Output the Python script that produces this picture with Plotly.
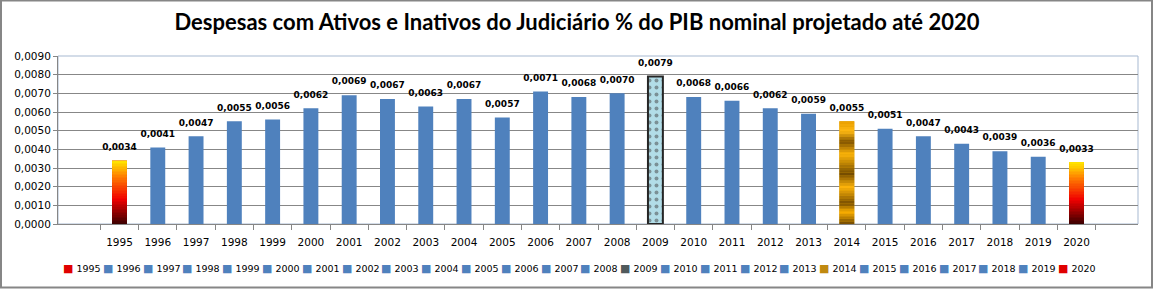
import plotly.graph_objects as go

# ---------------- data ----------------
years = [str(y) for y in range(1995, 2021)]
values = [0.0034, 0.0041, 0.0047, 0.0055, 0.0056, 0.0062, 0.0069, 0.0067, 0.0063,
          0.0067, 0.0057, 0.0071, 0.0068, 0.0070, 0.0079, 0.0068, 0.0066, 0.0062,
          0.0059, 0.0055, 0.0051, 0.0047, 0.0043, 0.0039, 0.0036, 0.0033]
y_ticks = [i / 1000 for i in range(0, 10)]
title = "Despesas com Ativos e Inativos do Judiciário % do PIB nominal projetado até 2020"

# ---------------- style ----------------
W, H = 1154, 292
ML, MR, MT, MB = 58, 16, 56, 68
PW, PH = W - ML - MR, H - MT - MB
BLUE = "#4f81bd"
BAR_W = 0.39
FONT = "DejaVu Sans"

fire_stops = [(0.0, (55, 0, 0)), (0.4, (240, 0, 0)), (0.75, (255, 125, 0)), (1.0, (255, 230, 0))]
gold_stops = [(0.0, (110, 70, 0)), (0.12, (255, 178, 0)), (0.2, (120, 78, 0)), (0.36, (255, 180, 10)),
              (0.49, (115, 75, 0)), (0.68, (255, 182, 10)), (0.80, (125, 80, 0)), (0.90, (255, 185, 20)),
              (1.0, (235, 160, 0))]


def interp(stops, f):
    for (f0, c0), (f1, c1) in zip(stops[:-1], stops[1:]):
        if f0 <= f <= f1:
            t = 0 if f1 == f0 else (f - f0) / (f1 - f0)
            c = [round(a + (b - a) * t) for a, b in zip(c0, c1)]
            return "rgb(%d,%d,%d)" % tuple(c)
    return "rgb(%d,%d,%d)" % stops[-1][1]


special = {"1995": fire_stops, "2014": gold_stops, "2020": fire_stops}
base_colors = []
for y in years:
    if y in ("1995", "2020"):
        base_colors.append("#d00000")
    elif y == "2014":
        base_colors.append("#d89a00")
    elif y == "2009":
        base_colors.append("#b2dde8")
    else:
        base_colors.append(BLUE)
line_w = [2 if y == "2009" else 0 for y in years]

fig = go.Figure()
fig.add_trace(go.Bar(
    x=years, y=values, width=BAR_W,
    marker=dict(color=base_colors, line=dict(color="#262626", width=line_w),
                pattern=dict(shape=["." if y == "2009" else "" for y in years],
                             fgcolor="#95cad8", fgopacity=0.5, size=7, solidity=0.25)),
    showlegend=False, hoverinfo="x+y"))

# gradient overlays built from the bar values
for y, stops in special.items():
    v = values[years.index(y)]
    n = 40
    seg = v / n
    fig.add_trace(go.Bar(
        x=[y] * n, y=[seg] * n, base=[i * seg for i in range(n)], width=BAR_W,
        marker=dict(color=[interp(stops, (i + 0.5) / n) for i in range(n)], line=dict(width=0)),
        showlegend=False, hoverinfo="skip"))

# data labels
fig.add_trace(go.Scatter(
    x=years, y=values, mode="markers+text", text=[("%.4f" % v).replace(".", ",") for v in values],
    marker=dict(size=12, opacity=0),
    textposition="top center", textfont=dict(family=FONT, size=9, color="#000000", weight="bold"),
    showlegend=False, hoverinfo="skip", cliponaxis=False))

# legend (built from categories)
legend_colors = []
for y in years:
    if y in ("1995", "2020"):
        legend_colors.append("#e00000")
    elif y == "2014":
        legend_colors.append("#c08a10")
    elif y == "2009":
        legend_colors.append("#505a5c")
    else:
        legend_colors.append(BLUE)
annotations = []
for i, (y, c) in enumerate(zip(years, legend_colors)):
    px = 61 + 39.8 * i
    annotations.append(dict(
        x=(px - ML) / PW, y=(MT + PH - 268) / PH, xref="paper", yref="paper",
        xanchor="left", yanchor="middle", showarrow=False,
        text="<span style='color:%s;font-size:11px'>■</span> %s" % (c, y),
        font=dict(family=FONT, size=9.5, color="#000000")))

shapes = [
    # plot area frame (light blue)
    dict(type="rect", xref="paper", yref="paper", x0=0, x1=1, y0=0, y1=1,
         line=dict(color="#a7b9d1", width=1), layer="below"),
    # outer chart border
    dict(type="rect", xref="paper", yref="paper",
         x0=(1 - ML) / PW, x1=(1152 - ML) / PW, y0=(MT + PH - 287.5) / PH, y1=(MT + PH - 0.5) / PH,
         line=dict(color="#868686", width=2), layer="above"),
]

fig.update_layout(
    width=W, height=H, margin=dict(l=ML, r=MR, t=MT, b=MB),
    paper_bgcolor="white", plot_bgcolor="white",
    barmode="overlay", separators=",.",
    title=dict(text=title, x=0.5, xref="container", xanchor="center",
               y=1 - 22 / H, yref="container", yanchor="middle",
               font=dict(family="Lato", size=22, color="#000000", weight="bold")),
    xaxis=dict(type="category", showgrid=False, showline=True, linecolor="#868686", linewidth=1,
               ticks="outside", tickson="boundaries", ticklen=5, tickcolor="#868686",
               ticklabelstandoff=8,
               tickfont=dict(family=FONT, size=10.5, color="#000000")),
    yaxis=dict(range=[0, 0.009], tickvals=y_ticks, tickformat=".4f", showgrid=True,
               gridcolor="#878787", gridwidth=1, showline=True, linecolor="#868686", linewidth=1,
               ticks="outside", ticklen=4, tickcolor="#868686", zeroline=False,
               tickfont=dict(family=FONT, size=10.5, color="#000000")),
    annotations=annotations, shapes=shapes, showlegend=False,
)

fig.write_html("out.html")
